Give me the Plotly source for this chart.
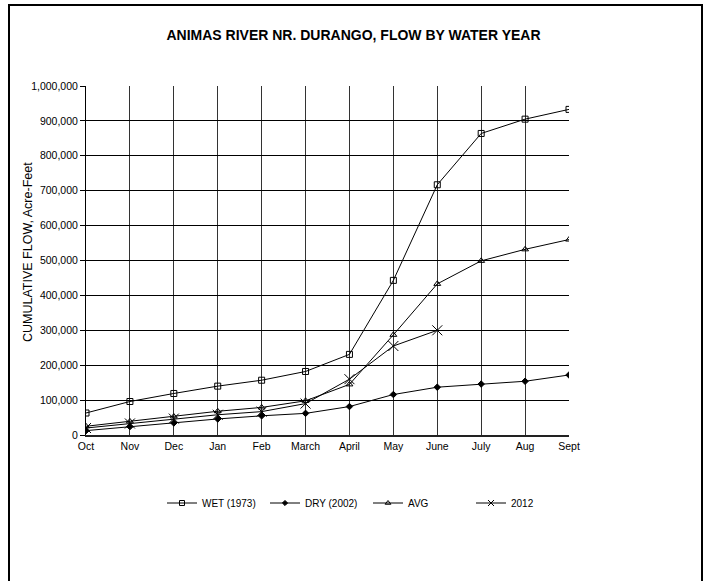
import plotly.graph_objects as go

months = ['Oct', 'Nov', 'Dec', 'Jan', 'Feb', 'March', 'April', 'May', 'June', 'July', 'Aug', 'Sept']

wet_1973 = [63000, 96000, 119000, 140000, 157000, 182000, 231000, 443000, 717000, 864000, 905000, 933000]
dry_2002 = [12500, 24000, 34500, 46000, 55000, 62000, 81500, 116000, 137000, 146000, 154000, 172000]
avg_flow = [25000, 39000, 53000, 68000, 79000, 98000, 145000, 287000, 433000, 499000, 532000, 560000]
y2012 = [20000, 33000, 47000, 58000, 67000, 90000, 160000, 255000, 300000]

W, H = 707, 581
ml, mr, mt, mb = 86, 138, 86, 146
pw, ph = W - ml - mr, H - mt - mb

fig = go.Figure()

series = [
    ('WET (1973)', wet_1973, 'square-open', 6, 5),
    ('DRY (2002)', dry_2002, 'diamond', 5, 4),
    ('AVG', avg_flow, 'triangle-up-open', 6, 5),
    ('2012', y2012, 'x-thin-open', 10, 6),
]
for name, vals, sym, sz, leg_sz in series:
    fig.add_trace(go.Scatter(
        x=months[:len(vals)], y=vals, name=name, mode='lines+markers',
        showlegend=False,
        line=dict(color='black', width=1),
        marker=dict(symbol=sym, size=sz, color='black',
                    line=dict(color='black', width=1)),
    ))
    # legend-only entry with smaller symbol, like the Excel legend
    fig.add_trace(go.Scatter(
        x=[None], y=[None], name=name, mode='lines+markers',
        line=dict(color='black', width=1),
        marker=dict(symbol=sym, size=leg_sz, color='black',
                    line=dict(color='black', width=1)),
    ))


def px_x(p):
    return (p - ml) / pw


def px_y(p):
    return (H - mb - p) / ph


# chart area border
fig.add_shape(type='rect', xref='paper', yref='paper',
              x0=px_x(9), x1=px_x(702), y0=px_y(600), y1=px_y(5),
              line=dict(color='black', width=2))

# y axis title placed like the original
fig.add_annotation(text='CUMULATIVE FLOW, Acre-Feet', xref='paper', yref='paper',
                   x=px_x(28), y=px_y(252), xanchor='center', yanchor='middle',
                   textangle=-90, showarrow=False, font=dict(size=12.5))

fig.update_layout(
    width=W, height=H,
    margin=dict(l=ml, r=mr, t=mt, b=mb),
    paper_bgcolor='white', plot_bgcolor='white',
    font=dict(family='Liberation Sans, Arial', size=10.5, color='black'),
    title=dict(text='<b>ANIMAS RIVER NR. DURANGO, FLOW BY WATER YEAR</b>',
               x=0.5, xanchor='center', y=1 - 35 / H, yanchor='middle',
               font=dict(size=14, family='Liberation Sans, Arial')),
    showlegend=True,
    legend=dict(orientation='h', x=px_x(162), xanchor='left', y=px_y(503),
                yanchor='middle', font=dict(size=10), itemwidth=30,
                entrywidth=58, tracegroupgap=0),
    xaxis=dict(type='category', categoryorder='array', categoryarray=months,
               range=[0, 11], showgrid=True, gridcolor='#333', gridwidth=1,
               showline=True, linecolor='#222', linewidth=2,
               ticks='', tickfont=dict(size=10.5), fixedrange=True,
               zeroline=False, mirror=False),
    yaxis=dict(range=[0, 1000000], dtick=100000, tickformat=',d',
               showgrid=True, gridcolor='black', gridwidth=1,
               showline=True, linecolor='black', linewidth=1,
               ticks='outside', ticklen=5, tickcolor='black',
               tickfont=dict(size=10.5), zeroline=False),
)

fig.write_html('out.html', config={'displayModeBar': False},
               post_script="document.body.style.margin='0';")
